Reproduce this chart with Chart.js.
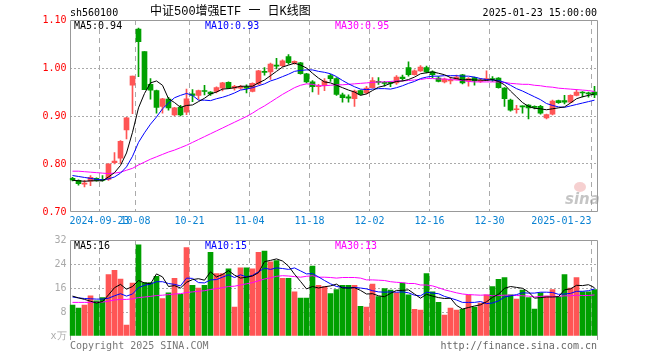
<!DOCTYPE html>
<html>
<head>
<meta charset="utf-8">
<script src="https://cdn.jsdelivr.net/npm/chart.js@4.4.1/dist/chart.umd.min.js"></script>
<style>
  body { margin: 0; background: #fff; }
  #wrap { position: relative; width: 660px; height: 360px; overflow: hidden; font-family: 'DejaVu Sans Mono', monospace; font-size: 10px; }
  #wrap canvas { position: absolute; left: 0; }
  .txt { position: absolute; white-space: pre; line-height: 12px; }
</style>
</head>
<body>
<div id="wrap">
  <canvas id="kChart" width="660" height="232" style="top:0"></canvas>
  <canvas id="volChart" width="660" height="115" style="top:230px"></canvas>

  <div class="txt" style="left:70px;top:7px;color:#000">sh560100</div>
  <div class="txt" style="left:150px;top:5px;color:#000;font-family:'Liberation Mono','Noto Sans CJK SC',monospace;font-size:12px;line-height:14px">中证500增强ETF 一 日K线图</div>
  <div class="txt" style="right:63px;top:7px;color:#000">2025-01-23 15:00:00</div>

  <div class="txt" style="left:74px;top:20px;color:#000">MA5:0.94</div>
  <div class="txt" style="left:205px;top:20px;color:#00f">MA10:0.93</div>
  <div class="txt" style="left:335px;top:20px;color:#f0f">MA30:0.95</div>

  <div class="txt" style="left:74px;top:240px;color:#000">MA5:16</div>
  <div class="txt" style="left:205px;top:240px;color:#00f">MA10:15</div>
  <div class="txt" style="left:335px;top:240px;color:#f0f">MA30:13</div>

  <div style="position:absolute;left:574px;top:182px;width:12px;height:10px;border-radius:50%;background:rgba(235,150,150,0.45)"></div>
  <div class="txt" style="left:565px;top:191px;color:rgba(150,150,150,0.55);font:italic bold 15px 'DejaVu Sans',sans-serif;line-height:16px">sina</div>

  <div class="txt" style="left:70px;top:340px;color:#777">Copyright 2025 SINA.COM</div>
  <div class="txt" style="right:63px;top:340px;color:#666">http://finance.sina.com.cn</div>
</div>

<script>
'use strict';

// trading days shown
var dates = [
  '2024-09-12','2024-09-13','2024-09-18','2024-09-19','2024-09-20','2024-09-23','2024-09-24','2024-09-25','2024-09-26','2024-09-27',
  '2024-09-30','2024-10-08','2024-10-09','2024-10-10','2024-10-11','2024-10-14','2024-10-15','2024-10-16','2024-10-17','2024-10-18',
  '2024-10-21','2024-10-22','2024-10-23','2024-10-24','2024-10-25','2024-10-28','2024-10-29','2024-10-30','2024-10-31','2024-11-01',
  '2024-11-04','2024-11-05','2024-11-06','2024-11-07','2024-11-08','2024-11-11','2024-11-12','2024-11-13','2024-11-14','2024-11-15',
  '2024-11-18','2024-11-19','2024-11-20','2024-11-21','2024-11-22','2024-11-25','2024-11-26','2024-11-27','2024-11-28','2024-11-29',
  '2024-12-02','2024-12-03','2024-12-04','2024-12-05','2024-12-06','2024-12-09','2024-12-10','2024-12-11','2024-12-12','2024-12-13',
  '2024-12-16','2024-12-17','2024-12-18','2024-12-19','2024-12-20','2024-12-23','2024-12-24','2024-12-25','2024-12-26','2024-12-27',
  '2024-12-30','2024-12-31','2025-01-02','2025-01-03','2025-01-06','2025-01-07','2025-01-08','2025-01-09','2025-01-10','2025-01-13',
  '2025-01-14','2025-01-15','2025-01-16','2025-01-17','2025-01-20','2025-01-21','2025-01-22','2025-01-23'
];

// axis labels
var tickDates = ['2024-09-23','2024-10-08','2024-10-21','2024-11-04','2024-11-18','2024-12-02','2024-12-16','2024-12-30','2025-01-23'];
var tickTexts = ['2024-09-23','10-08','10-21','11-04','11-18','12-02','12-16','12-30','2025-01-23'];

var opens = [
  0.770,0.766,0.758,0.764,0.770,0.768,0.768,0.803,0.812,0.871,
  0.964,1.081,1.034,0.966,0.953,0.920,0.935,0.902,0.918,0.908,
  0.946,0.943,0.953,0.950,0.951,0.958,0.970,0.958,0.958,0.961,
  0.951,0.967,0.993,0.992,1.006,1.005,1.024,1.010,1.011,0.988,
  0.971,0.961,0.963,0.984,0.978,0.944,0.940,0.936,0.953,0.948,
  0.959,0.972,0.970,0.970,0.969,0.981,1.001,0.986,0.994,1.001,
  0.992,0.979,0.971,0.973,0.976,0.986,0.973,0.980,0.972,0.975,
  0.978,0.979,0.958,0.933,0.913,0.920,0.923,0.919,0.920,0.896,
  0.904,0.932,0.932,0.929,0.943,0.950,0.948,0.950
];
var highs = [
  0.772,0.767,0.766,0.776,0.771,0.776,0.801,0.824,0.849,0.897,
  0.983,1.083,1.034,0.978,0.954,0.937,0.939,0.918,0.922,0.956,
  0.955,0.954,0.964,0.951,0.961,0.970,0.971,0.964,0.964,0.965,
  0.969,0.995,1.001,1.010,1.020,1.017,1.028,1.015,1.012,0.989,
  0.974,0.966,0.978,0.987,0.980,0.948,0.944,0.954,0.954,0.962,
  0.980,0.980,0.972,0.971,0.984,0.985,1.013,0.996,1.005,1.004,
  0.994,0.982,0.979,0.981,0.985,0.987,0.980,0.981,0.978,0.994,
  0.982,0.980,0.959,0.935,0.922,0.921,0.924,0.921,0.922,0.904,
  0.933,0.933,0.943,0.944,0.955,0.951,0.950,0.962
];
var lows = [
  0.765,0.756,0.752,0.755,0.764,0.764,0.766,0.800,0.801,0.852,
  0.905,0.982,0.955,0.935,0.906,0.906,0.912,0.900,0.900,0.903,
  0.930,0.935,0.944,0.943,0.948,0.952,0.957,0.954,0.956,0.948,
  0.950,0.965,0.985,0.976,0.998,1.003,1.008,1.008,0.987,0.969,
  0.950,0.945,0.953,0.972,0.943,0.929,0.929,0.920,0.944,0.946,
  0.958,0.966,0.962,0.961,0.966,0.973,0.983,0.985,0.993,0.990,
  0.980,0.971,0.969,0.967,0.975,0.967,0.962,0.964,0.970,0.974,
  0.972,0.958,0.920,0.910,0.906,0.906,0.894,0.915,0.904,0.894,
  0.902,0.926,0.925,0.928,0.942,0.940,0.939,0.938
];
var closes = [
  0.767,0.759,0.760,0.772,0.766,0.766,0.800,0.806,0.847,0.896,
  0.983,1.055,0.955,0.954,0.918,0.936,0.917,0.917,0.902,0.936,
  0.943,0.953,0.951,0.946,0.959,0.969,0.958,0.962,0.962,0.958,
  0.968,0.994,0.991,1.008,1.004,1.015,1.011,1.014,0.988,0.971,
  0.961,0.963,0.973,0.978,0.945,0.938,0.937,0.952,0.945,0.958,
  0.974,0.970,0.968,0.968,0.981,0.978,0.986,0.994,1.002,0.992,
  0.986,0.972,0.977,0.975,0.981,0.969,0.978,0.973,0.974,0.978,
  0.976,0.959,0.936,0.912,0.915,0.919,0.917,0.918,0.906,0.903,
  0.931,0.928,0.929,0.943,0.950,0.948,0.946,0.944
];

// price moving averages
var ma5 = [
  0.766,0.765,0.764,0.765,0.765,0.765,0.773,0.782,0.797,0.823,
  0.866,0.917,0.947,0.969,0.973,0.964,0.936,0.928,0.918,0.922,
  0.923,0.930,0.937,0.946,0.950,0.956,0.957,0.959,0.962,0.962,
  0.962,0.969,0.975,0.984,0.993,1.002,1.006,1.010,1.006,1.000,
  0.989,0.979,0.971,0.969,0.964,0.959,0.954,0.950,0.943,0.946,
  0.953,0.960,0.963,0.968,0.972,0.973,0.976,0.981,0.988,0.990,
  0.992,0.989,0.986,0.980,0.978,0.975,0.976,0.975,0.975,0.974,
  0.976,0.972,0.965,0.952,0.940,0.928,0.920,0.916,0.915,0.913,
  0.915,0.917,0.919,0.927,0.936,0.940,0.943,0.946
];
var ma10 = [
  0.776,0.774,0.772,0.770,0.768,0.767,0.769,0.773,0.781,0.794,
  0.816,0.845,0.865,0.883,0.898,0.915,0.927,0.938,0.943,0.947,
  0.943,0.933,0.933,0.932,0.936,0.939,0.943,0.948,0.954,0.956,
  0.959,0.963,0.967,0.973,0.977,0.982,0.987,0.993,0.995,0.996,
  0.996,0.993,0.991,0.988,0.982,0.974,0.967,0.961,0.956,0.955,
  0.956,0.957,0.957,0.956,0.959,0.963,0.968,0.972,0.978,0.981,
  0.983,0.983,0.984,0.984,0.984,0.983,0.983,0.981,0.978,0.976,
  0.975,0.974,0.970,0.964,0.957,0.952,0.946,0.940,0.934,0.926,
  0.922,0.919,0.918,0.921,0.924,0.927,0.930,0.933
];
var ma30 = [
  0.785,0.785,0.784,0.783,0.782,0.781,0.780,0.781,0.783,0.787,
  0.791,0.798,0.804,0.810,0.815,0.820,0.825,0.829,0.834,0.839,
  0.845,0.851,0.857,0.863,0.869,0.875,0.881,0.887,0.893,0.899,
  0.906,0.914,0.921,0.929,0.937,0.945,0.952,0.959,0.964,0.967,
  0.966,0.963,0.963,0.964,0.965,0.965,0.966,0.967,0.968,0.969,
  0.970,0.971,0.971,0.972,0.973,0.973,0.974,0.975,0.976,0.978,
  0.978,0.977,0.977,0.976,0.975,0.974,0.972,0.971,0.971,0.971,
  0.971,0.971,0.970,0.968,0.967,0.966,0.966,0.964,0.963,0.961,
  0.960,0.958,0.957,0.956,0.955,0.954,0.953,0.951
];

// volume, in 10k
var volumes = [
  10.3,9.3,10.3,13.4,11.7,12.8,20.5,21.9,19.0,3.6,
  17.6,30.4,17.8,17.8,19.9,12.5,14.4,19.2,13.9,29.5,
  16.9,16.0,16.9,27.9,20.8,20.8,22.4,9.6,22.7,22.7,
  22.4,27.9,28.3,24.7,25.1,19.2,19.2,14.7,12.6,12.6,
  23.3,16.9,16.5,14.1,15.5,16.9,16.9,16.9,9.9,9.6,
  17.3,13.1,15.8,15.3,14.4,17.6,13.7,8.9,8.6,20.8,
  14.7,11.2,7.0,9.3,8.6,8.9,13.7,9.6,11.0,13.7,
  16.5,18.9,19.5,13.7,12.3,15.3,12.8,9.0,14.4,13.3,
  15.5,13.1,20.5,16.0,19.5,14.7,14.7,15.5
];
var volMa5 = [
  13.3,12.7,12.2,11.6,11.0,11.5,13.7,16.1,17.2,15.6,
  16.5,18.5,17.7,17.4,20.7,19.7,16.5,16.8,16.0,17.9,
  18.8,19.1,18.6,21.4,19.7,20.5,21.8,20.3,19.3,19.6,
  20.0,21.1,24.8,25.2,25.7,25.0,23.3,20.6,18.2,15.7,
  16.5,16.0,16.4,16.7,17.3,16.0,16.0,16.1,15.2,14.0,
  14.1,13.4,13.1,14.2,15.2,15.2,15.4,14.0,12.6,13.9,
  13.3,12.8,12.5,12.6,10.2,9.0,9.5,10.0,10.4,11.4,
  12.9,13.9,15.9,16.5,16.2,15.9,14.7,12.6,12.8,13.0,
  13.0,13.1,15.4,15.7,16.9,16.8,17.1,16.1
];
var volMa10 = [
  13.0,12.7,12.5,12.4,12.3,12.3,12.6,13.4,14.1,13.3,
  14.0,16.1,16.9,17.3,18.1,18.1,17.5,17.2,16.7,19.3,
  19.2,17.8,17.7,18.7,18.8,19.6,20.4,19.5,20.4,19.7,
  20.2,21.4,22.6,22.2,22.7,22.5,22.2,22.7,21.7,20.7,
  20.8,19.7,18.5,17.4,16.5,16.2,16.0,16.2,16.0,15.7,
  15.1,14.7,14.6,14.7,14.6,14.7,14.4,13.6,13.4,14.6,
  14.3,14.1,13.2,12.6,12.0,11.2,11.2,11.2,11.5,10.8,
  11.0,11.7,13.0,13.4,13.8,14.4,14.3,14.3,14.6,14.6,
  14.5,13.9,14.0,14.2,14.9,14.9,15.1,15.7
];
var volMa30 = [
  11.2,11.2,11.2,11.2,11.2,11.3,11.6,12.0,12.2,12.2,
  12.4,12.8,13.0,13.2,13.5,13.6,13.8,14.0,14.1,14.5,
  14.7,14.9,15.1,15.5,15.8,16.1,16.5,16.6,17.0,17.4,
  17.8,18.4,19.0,19.4,19.9,20.1,20.0,19.8,19.6,19.9,
  20.1,19.6,19.6,19.5,19.3,19.5,19.5,19.5,19.3,18.7,
  18.7,18.6,18.5,18.1,17.9,17.8,17.5,17.5,17.0,17.0,
  16.7,16.1,15.4,14.9,14.4,14.0,13.8,13.7,13.6,13.7,
  13.4,13.5,13.6,13.6,13.5,13.4,13.3,13.0,13.2,13.3,
  13.2,13.2,13.4,13.4,13.6,13.5,13.5,13.7
];

(function () {
  var RED = '#ff5555';
  var GREEN = '#00a000';
  var GRID = '#aaaaaa';

  Chart.defaults.font.family = "'DejaVu Sans Mono', monospace";
  Chart.defaults.font.size = 10;

  var colors = closes.map(function (c, i) {
    return c >= opens[i] ? RED : GREEN;
  });

  function tickIndex(i) {
    return tickDates.indexOf(dates[i]);
  }

  // gray frame around the plot area
  function framePlugin(top, bottom, withBottom) {
    return {
      id: 'frame',
      beforeDatasetsDraw: function (chart) {
        var c = chart.ctx;
        c.save();
        c.strokeStyle = '#999';
        c.lineWidth = 1;
        c.beginPath();
        c.moveTo(70.5, bottom);
        c.lineTo(70.5, top);
        c.lineTo(597.5, top);
        c.lineTo(597.5, bottom);
        if (withBottom) c.lineTo(70.5, bottom);
        c.stroke();
        c.restore();
      }
    };
  }

  function xScale(showLabels, height) {
    return {
      type: 'category',
      offset: true,
      grid: {
        offset: true,
        drawTicks: false,
        color: function (ctx) {
          return ctx.tick && tickIndex(ctx.index) >= 0 ? GRID : 'transparent';
        }
      },
      border: { display: false, dash: [5, 4] },
      ticks: {
        display: showLabels,
        autoSkip: false,
        maxRotation: 0,
        align: 'inner',
        labelOffset: -3,
        padding: 3,
        color: '#0a82d2',
        callback: function (v, i) {
          var k = tickIndex(i);
          return k >= 0 ? tickTexts[k] : '';
        }
      },
      afterFit: function (s) { s.height = height; }
    };
  }

  function maLine(data, color) {
    return {
      type: 'line',
      data: data,
      borderColor: color,
      borderWidth: 1,
      pointRadius: 0,
      fill: false,
      tension: 0,
      order: 0
    };
  }

  // K line chart
  new Chart(document.getElementById('kChart'), {
    type: 'bar',
    data: {
      labels: dates,
      datasets: [
        maLine(ma5, '#000'),
        maLine(ma10, '#0000ff'),
        maLine(ma30, '#ff00ff'),
        {
          data: opens.map(function (o, i) { return [o, closes[i]]; }),
          backgroundColor: colors,
          barThickness: 5,
          minBarLength: 1,
          grouped: false,
          order: 1
        },
        {
          data: lows.map(function (l, i) { return [l, highs[i]]; }),
          backgroundColor: colors,
          barThickness: 1,
          grouped: false,
          order: 2
        }
      ]
    },
    options: {
      responsive: false,
      animation: false,
      devicePixelRatio: 1,
      layout: { padding: { top: 20, right: 62.5, bottom: 0, left: 0 } },
      plugins: { legend: { display: false }, tooltip: { enabled: false } },
      scales: {
        x: xScale(true, 20),
        y: {
          min: 0.7,
          max: 1.1,
          grid: {
            drawTicks: false,
            color: function (ctx) {
              var v = ctx.tick ? ctx.tick.value : 0;
              return v > 0.75 && v < 1.05 ? GRID : 'transparent';
            }
          },
          border: { display: false, dash: [2, 2] },
          ticks: {
            stepSize: 0.1,
            padding: 3,
            color: '#f00',
            callback: function (v) { return v.toFixed(2); }
          },
          afterFit: function (s) { s.width = 69.5; }
        }
      }
    },
    plugins: [framePlugin(20.5, 211.5, true)]
  });

  // volume chart
  new Chart(document.getElementById('volChart'), {
    type: 'bar',
    data: {
      labels: dates,
      datasets: [
        maLine(volMa5, '#000'),
        maLine(volMa10, '#0000ff'),
        maLine(volMa30, '#ff00ff'),
        {
          data: volumes,
          backgroundColor: colors,
          barThickness: 5,
          grouped: false,
          order: 1
        }
      ]
    },
    options: {
      responsive: false,
      animation: false,
      devicePixelRatio: 1,
      layout: { padding: { top: 10, right: 62.5, bottom: 0, left: 0 } },
      plugins: { legend: { display: false }, tooltip: { enabled: false } },
      scales: {
        x: xScale(false, 5),
        y: {
          min: 0,
          max: 32,
          grid: {
            drawTicks: false,
            color: function (ctx) {
              var v = ctx.tick ? ctx.tick.value : 0;
              return v > 0 && v < 32 ? GRID : 'transparent';
            }
          },
          border: { display: false, dash: [2, 2] },
          ticks: {
            stepSize: 8,
            padding: 3,
            color: '#aaa',
            callback: function (v) { return v === 0 ? 'x万' : String(v); }
          },
          afterFit: function (s) { s.width = 69.5; }
        }
      }
    },
    plugins: [framePlugin(10.5, 110, false)]
  });
})();
</script>
</body>
</html>
